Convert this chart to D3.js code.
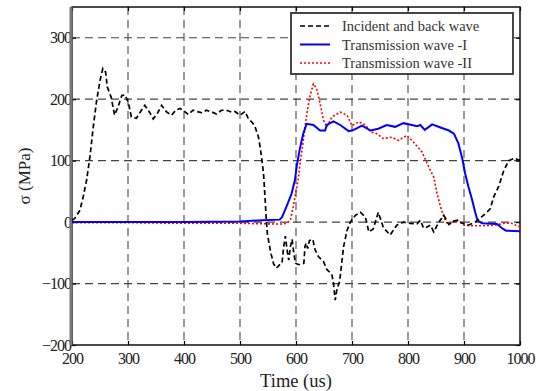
<!DOCTYPE html>
<html>
<head>
<meta charset="utf-8">
<script src="https://cdn.jsdelivr.net/npm/d3@7"></script>
<style>
  html, body { margin: 0; padding: 0; background: #fff; }
</style>
</head>
<body>
<div id="chart"></div>
<script>
// Incident and back wave (black dashed)
const incidentTime = [200, 205, 214, 220, 226, 232, 238, 244, 250, 255, 260, 263, 270, 276, 282, 289, 295, 301, 306, 315, 324, 330, 339, 345, 352, 360, 369, 378, 385, 393, 401, 408, 416, 423, 432, 440, 450, 458, 467, 476, 485, 491, 500, 509, 515, 522, 527, 533, 536, 539, 542, 545, 547, 549, 555, 560, 565, 570, 575, 578, 581, 584, 587, 590, 593, 596, 599, 604, 609, 614, 616, 618, 621, 624, 630, 634, 640, 649, 655, 664, 667, 670, 673, 678, 685, 691, 697, 706, 715, 724, 730, 738, 747, 756, 768, 780, 792, 804, 816, 822, 828, 834, 840, 846, 855, 864, 873, 882, 890, 897, 908, 920, 932, 940, 947, 953, 962, 971, 980, 990, 1000];
const incidentStress = [3, 6, 19, 41, 68, 106, 155, 198, 230, 250, 244, 220, 203, 174, 187, 206, 207, 193, 171, 169, 182, 190, 178, 168, 176, 190, 179, 174, 182, 185, 180, 175, 182, 180, 178, 182, 179, 176, 182, 182, 179, 180, 174, 180, 168, 162, 155, 138, 122, 102, 79, 35, 3, -20, -50, -68, -75, -70, -67, -40, -23, -45, -62, -40, -28, -50, -67, -69, -69, -67, -40, -34, -43, -30, -28, -45, -56, -64, -77, -85, -100, -127, -110, -96, -40, -14, 0, 11, 16, 8, -16, -11, 16, -9, -21, -5, 0, -2, -3, 3, -10, -8, -5, -16, 0, 11, -4, 2, 3, -2, -5, 0, 9, 15, 22, 41, 58, 84, 100, 104, 100];

// Transmission wave -I (blue solid)
const transITime = [200, 300, 400, 500, 540, 571, 575, 583, 592, 598, 602, 607, 613, 619, 631, 643, 652, 655, 667, 679, 694, 703, 718, 733, 747, 762, 777, 792, 807, 816, 822, 830, 843, 858, 873, 882, 890, 897, 902, 908, 914, 920, 924, 932, 959, 968, 975, 1000];
const transIStress = [0, 0, 0, 1, 3, 4, 8, 25, 46, 68, 95, 120, 144, 160, 158, 149, 149, 158, 164, 158, 148, 150, 157, 149, 152, 158, 155, 161, 158, 156, 158, 150, 159, 154, 149, 144, 128, 103, 79, 57, 38, 16, 3, -2, -3, -10, -14, -15];

// Transmission wave -II (red dotted)
const transIITime = [200, 300, 400, 500, 560, 577, 585, 590, 595, 600, 604, 608, 612, 616, 620, 625, 631, 637, 643, 649, 655, 664, 679, 691, 700, 712, 724, 733, 744, 756, 771, 783, 798, 810, 825, 837, 846, 852, 858, 864, 870, 879, 888, 900, 917, 936, 954, 972, 985, 1000];
const transIIStress = [-1, -1, -2, -2, -3, -3, -1, 3, 25, 50, 70, 100, 125, 155, 180, 205, 225, 217, 193, 166, 155, 171, 179, 174, 157, 163, 158, 147, 144, 136, 138, 133, 141, 130, 114, 90, 73, 46, 25, 8, -2, -2, 3, -5, -6, -6, -5, -2, -2, -8];

const xTicks = [200, 300, 400, 500, 600, 700, 800, 900, 1000];
const yTicks = [-200, -100, 0, 100, 200, 300];
const seriesNames = ['Incident and back wave', 'Transmission wave -I', 'Transmission wave -II'];

const serif = "'Liberation Serif', 'Times New Roman', Times, 'DejaVu Serif', serif";
const width = 542, height = 391;
const margin = { top: 7, right: 22, bottom: 46, left: 72 };
const innerW = width - margin.left - margin.right;
const innerH = height - margin.top - margin.bottom;

const svg = d3.select('#chart').append('svg')
  .attr('width', width)
  .attr('height', height)
  .style('font-family', serif);

const x = d3.scaleLinear().domain([200, 1000]).range([0, innerW]);
const y = d3.scaleLinear().domain([-200, 350]).range([innerH, 0]);

const g = svg.append('g').attr('transform', `translate(${margin.left},${margin.top})`);

// grid
g.append('g').selectAll('line').data(xTicks.slice(1, -1)).enter().append('line')
  .attr('x1', d => x(d)).attr('x2', d => x(d))
  .attr('y1', 0).attr('y2', innerH)
  .attr('stroke', '#666').attr('stroke-width', 1.3)
  .attr('stroke-dasharray', '8,5');
g.append('g').selectAll('line').data(yTicks.slice(1)).enter().append('line')
  .attr('x1', 0).attr('x2', innerW)
  .attr('y1', d => y(d)).attr('y2', d => y(d))
  .attr('stroke', '#444').attr('stroke-width', 1.2)
  .attr('stroke-dasharray', '8,5');

// axes with inward ticks
const xAxis = g.append('g').attr('transform', `translate(0,${innerH})`)
  .call(d3.axisBottom(x).tickValues(xTicks).tickSize(-4).tickPadding(8).tickFormat(d3.format('d')));
const yAxis = g.append('g')
  .call(d3.axisLeft(y).tickValues(yTicks).tickSize(-4).tickPadding(1).tickFormat(d3.format('d')));
g.append('g').attr('transform', `translate(${innerW},0)`)
  .call(d3.axisRight(y).tickValues(yTicks).tickSize(-4).tickFormat(''));
g.append('g')
  .call(d3.axisTop(x).tickValues(xTicks).tickSize(-4).tickFormat(''));

g.selectAll('.domain').remove();
g.selectAll('.tick line').attr('stroke', '#000').attr('stroke-width', 1.2);
g.selectAll('g').attr('font-family', null);
g.selectAll('.tick text')
  .style('font-family', serif)
  .style('font-size', '16px')
  .style('fill', '#222')
  .style('letter-spacing', '-1px');

// frame
g.append('rect').attr('width', innerW).attr('height', innerH)
  .attr('fill', 'none').attr('stroke', '#111').attr('stroke-width', 1.5);
g.append('line').attr('x1', -1).attr('x2', -1).attr('y1', 0).attr('y2', innerH)
  .attr('stroke', '#777').attr('stroke-width', 3);

// curves
const line = d3.line().x(d => x(d[0])).y(d => y(d[1]));
const styles = [
  { color: '#000', width: 1.7, dash: '5,3' },
  { color: '#0000ff', width: 2, dash: null },
  { color: '#ff0000', width: 1.6, dash: '2,2' }
];
const series = [
  d3.zip(incidentTime, incidentStress),
  d3.zip(transITime, transIStress),
  d3.zip(transIITime, transIIStress)
];
// red first, then blue, black on top
[2, 1, 0].forEach(i => {
  g.append('path')
    .datum(series[i])
    .attr('d', line)
    .attr('fill', 'none')
    .attr('stroke', styles[i].color)
    .attr('stroke-width', styles[i].width)
    .attr('stroke-dasharray', styles[i].dash);
});

// axis titles
svg.append('text')
  .attr('x', margin.left + innerW / 2)
  .attr('y', 387)
  .attr('text-anchor', 'middle')
  .style('font-family', serif)
  .style('font-size', '18.5px')
  .style('fill', '#222')
  .text('Time (us)');
svg.append('text')
  .attr('transform', `translate(30,${margin.top + innerH / 2}) rotate(-90)`)
  .attr('text-anchor', 'middle')
  .style('font-family', serif)
  .style('font-size', '17px')
  .style('fill', '#222')
  .text('σ (MPa)');

// legend
const legend = svg.append('g').attr('transform', 'translate(291,13)');
legend.append('rect').attr('width', 222).attr('height', 61)
  .attr('fill', '#fff').attr('stroke', '#333').attr('stroke-width', 1.8);
seriesNames.forEach((name, i) => {
  const ly = 13 + i * 18.5;
  legend.append('line')
    .attr('x1', 9).attr('x2', 39).attr('y1', ly).attr('y2', ly)
    .attr('stroke', styles[i].color).attr('stroke-width', styles[i].width)
    .attr('stroke-dasharray', styles[i].dash);
  legend.append('text')
    .attr('x', 51).attr('y', ly + 5)
    .style('font-family', serif)
    .style('font-size', '14.5px')
    .style('fill', '#333')
    .text(name);
});
</script>
</body>
</html>
